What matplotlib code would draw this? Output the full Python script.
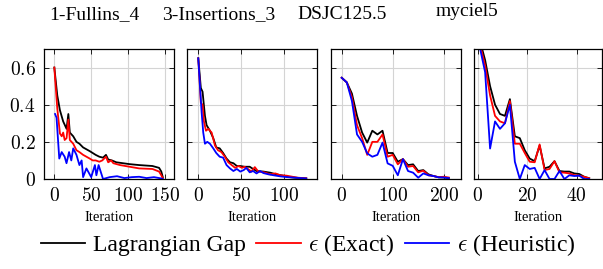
import numpy as np
import matplotlib
matplotlib.use('Agg')
import matplotlib.pyplot as plt
from matplotlib.ticker import FuncFormatter
from matplotlib.lines import Line2D

plt.rcParams['font.family'] = 'serif'
plt.rcParams['font.serif'] = ['Liberation Serif', 'DejaVu Serif']
plt.rcParams['mathtext.fontset'] = 'cm'

titles = ['1-Fullins_4', '3-Insertions_3', 'DSJC125.5', 'myciel5']
series_names = ['Lagrangian Gap', r'$\epsilon$ (Exact)', r'$\epsilon$ (Heuristic)']
colors = ['black', 'red', 'blue']

# 1-Fullins_4
fl_x_gap = [0, 4, 7.6, 12, 16.6, 19, 21, 25.6, 30, 34, 39, 43.5, 48, 52, 56, 61, 66, 70, 73, 78, 84, 93, 102, 115, 133, 142, 145, 147]
fl_gap = [0.60, 0.45, 0.37, 0.31, 0.27, 0.35, 0.25, 0.23, 0.20, 0.19, 0.17, 0.16, 0.15, 0.14, 0.13, 0.12, 0.115, 0.13, 0.105, 0.10, 0.09, 0.085, 0.08, 0.075, 0.07, 0.06, 0.04, 0.01]
fl_x_ex = [0, 4, 7.6, 10, 12, 14, 16.6, 19, 21, 25.6, 30, 34, 39, 43.5, 48, 52, 56, 61, 65, 70, 73, 77, 80, 89, 102, 115, 133, 142, 145, 147]
fl_ex = [0.60, 0.38, 0.245, 0.23, 0.25, 0.21, 0.22, 0.32, 0.21, 0.19, 0.155, 0.145, 0.13, 0.12, 0.11, 0.10, 0.10, 0.093, 0.10, 0.12, 0.09, 0.10, 0.085, 0.075, 0.066, 0.057, 0.054, 0.04, 0.02, 0.005]
fl_x_he = [1, 3, 6.7, 10, 14, 16.5, 20, 23, 25.6, 30, 34, 37, 39, 43.5, 50, 55, 57, 60, 66, 75, 85, 95, 105, 115, 125, 135, 145, 147]
fl_he = [0.35, 0.33, 0.11, 0.145, 0.12, 0.085, 0.145, 0.10, 0.165, 0.13, 0.075, 0.10, 0.01, 0.057, 0.01, 0.075, 0.02, 0.075, 0.0, 0.01, 0.015, 0.005, 0.01, 0.012, 0.005, 0.01, 0.003, 0.0]

# 3-Insertions_3
ins_x_gap = [0, 3, 5, 7.8, 9.7, 13.6, 17.5, 21, 25, 29, 33, 37, 41, 45, 49, 54, 60, 64, 68, 76, 84, 91, 99, 107, 113, 120, 126]
ins_gap = [0.65, 0.49, 0.47, 0.34, 0.29, 0.26, 0.22, 0.17, 0.165, 0.14, 0.11, 0.09, 0.085, 0.07, 0.07, 0.066, 0.066, 0.054, 0.043, 0.04, 0.034, 0.025, 0.018, 0.01, 0.007, 0.005, 0.003]
ins_x_ex = [0, 3, 5, 6.6, 9, 11.7, 15.6, 19.5, 23, 27, 31, 35, 39, 43, 47, 51, 54, 58, 62, 66, 70, 77, 84, 90, 96, 103, 110, 116, 126]
ins_ex = [0.65, 0.41, 0.40, 0.31, 0.26, 0.27, 0.25, 0.18, 0.155, 0.145, 0.12, 0.09, 0.075, 0.06, 0.07, 0.06, 0.066, 0.054, 0.04, 0.064, 0.04, 0.036, 0.025, 0.03, 0.02, 0.018, 0.012, 0.007, 0.004]
ins_x_he = [0, 2, 3.9, 5.8, 7.8, 10.5, 13.6, 17.5, 21, 25, 29, 33, 37, 41, 45, 49, 53, 56, 60, 64, 68, 72, 76, 82, 88, 96, 104, 113, 126]
ins_he = [0.65, 0.50, 0.36, 0.25, 0.19, 0.20, 0.19, 0.165, 0.14, 0.12, 0.115, 0.075, 0.057, 0.043, 0.054, 0.04, 0.048, 0.06, 0.036, 0.043, 0.03, 0.043, 0.032, 0.025, 0.02, 0.014, 0.01, 0.007, 0.003]

# DSJC125.5
dsj_x = [0, 10, 20, 30, 40, 50, 60, 70, 80, 90, 100, 110, 120, 130, 140, 150, 160, 170, 180, 190, 200, 210]
dsj_gap = [0.545, 0.52, 0.46, 0.34, 0.25, 0.196, 0.26, 0.24, 0.26, 0.14, 0.14, 0.093, 0.107, 0.075, 0.079, 0.043, 0.048, 0.025, 0.016, 0.009, 0.008, 0.005]
dsj_ex = [0.545, 0.52, 0.44, 0.29, 0.22, 0.13, 0.20, 0.20, 0.24, 0.12, 0.13, 0.079, 0.107, 0.066, 0.07, 0.036, 0.045, 0.02, 0.016, 0.01, 0.012, 0.008]
dsj_he = [0.545, 0.52, 0.42, 0.24, 0.20, 0.138, 0.12, 0.13, 0.196, 0.084, 0.071, 0.02, 0.107, 0.043, 0.034, 0.007, 0.03, 0.02, 0.016, 0.009, 0.008, 0.005]

# myciel5
my_x = [1, 3, 5, 7, 9, 11, 13, 15, 17, 19, 21, 23, 25, 27, 29, 31, 33, 35, 37, 39, 41, 43, 45]
my_gap = [0.74, 0.64, 0.50, 0.40, 0.35, 0.34, 0.43, 0.23, 0.22, 0.155, 0.11, 0.096, 0.18, 0.057, 0.066, 0.096, 0.043, 0.04, 0.04, 0.03, 0.027, 0.012, 0.004]
my_ex = [0.72, 0.61, 0.45, 0.34, 0.31, 0.30, 0.42, 0.19, 0.19, 0.14, 0.093, 0.09, 0.186, 0.048, 0.054, 0.096, 0.036, 0.034, 0.03, 0.021, 0.018, 0.012, 0.004]
my_he = [0.70, 0.575, 0.164, 0.31, 0.27, 0.30, 0.40, 0.093, 0.0, 0.075, 0.054, 0.06, 0.0, 0.048, 0.0, 0.0, 0.043, 0.0, 0.02, 0.016, 0.018, 0.0, 0.0]

panels = [
    [(fl_x_gap, fl_gap), (fl_x_ex, fl_ex), (fl_x_he, fl_he)],
    [(ins_x_gap, ins_gap), (ins_x_ex, ins_ex), (ins_x_he, ins_he)],
    [(dsj_x, dsj_gap), (dsj_x, dsj_ex), (dsj_x, dsj_he)],
    [(my_x, my_gap), (my_x, my_ex), (my_x, my_he)],
]
xticks = [[0, 50, 100, 150], [0, 50, 100], [0, 100, 200], [0, 20, 40]]
xlims = [(-14, 162.2), (-13.5, 138.9), (-21.6, 233.3), (-1.37, 50.3)]
yticks = [0, 0.2, 0.4, 0.6]

W, H = 603, 269
fig = plt.figure(figsize=(W / 100, H / 100), dpi=100)

# axes boxes in pixels: left, right
boxes = [(44, 174), (186.7, 317.3), (330.7, 460.7), (474.3, 602.3)]
top, bottom = 49, 179

title_pos = [(94, 19), (219, 19), (342, 19), (467, 15.5)]

mathfmt = FuncFormatter(lambda v, p: '$%g$' % v)

for i, (l, r) in enumerate(boxes):
    ax = fig.add_axes([l / W, 1 - bottom / H, (r - l) / W, (bottom - top) / H])
    for (xs, ys), c in zip(panels[i], colors):
        ax.plot(xs, ys, color=c, lw=1.3)
    ax.set_xlim(*xlims[i])
    ax.set_ylim(0, 0.7)
    ax.set_xticks(xticks[i])
    ax.set_yticks(yticks)
    ax.xaxis.set_major_formatter(mathfmt)
    ax.yaxis.set_major_formatter(mathfmt)
    ax.grid(True, color='#d4d4d4', lw=0.8)
    ax.set_axisbelow(True)
    ax.tick_params(direction='in', top=True, right=True, length=3.5, width=0.6,
                   labelsize=14, pad=6)
    if i > 0:
        ax.tick_params(labelleft=False)
    for s in ax.spines.values():
        s.set_linewidth(0.9)
    ax.set_xlabel('Iteration', fontsize=10.5, labelpad=4)
    fig.text(title_pos[i][0] / W, 1 - title_pos[i][1] / H, titles[i],
             ha='center', va='baseline', fontsize=14)

handles = [Line2D([], [], color=c, lw=1.3) for c in colors]
fig.legend(handles, series_names, loc='center', ncol=3, frameon=False,
           bbox_to_anchor=(308 / W, 1 - 245 / H), fontsize=17,
           handlelength=1.9, handletextpad=0.3, columnspacing=0.45,
           borderpad=0, borderaxespad=0)

fig.savefig('out.png', dpi=100)
